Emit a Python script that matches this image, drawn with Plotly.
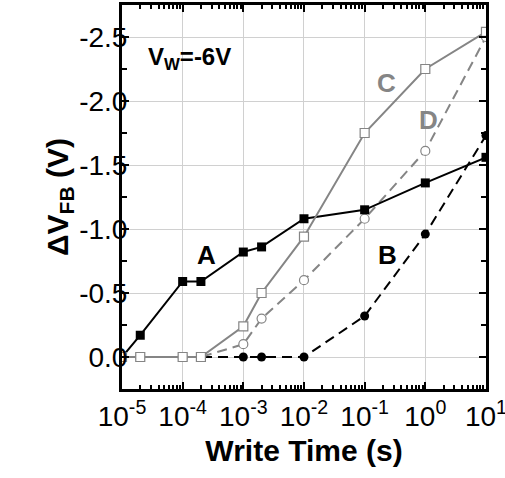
import plotly.graph_objects as go

t_all = [1e-5, 2e-5, 1e-4, 2e-4, 1e-3, 2e-3, 1e-2, 1e-1, 1, 10]
A = [0.0, -0.17, -0.59, -0.59, -0.82, -0.86, -1.08, -1.15, -1.36, -1.56]
B = [0.0, 0.0, 0.0, 0.0, 0.0, 0.0, 0.0, -0.32, -0.96, -1.73]
C = [0.0, 0.0, 0.0, 0.0, -0.24, -0.50, -0.94, -1.75, -2.25, -2.54]
D = [0.0, 0.0, 0.0, 0.0, -0.10, -0.30, -0.60, -1.08, -1.61, -2.50]

xticks = [1e-5, 1e-4, 1e-3, 1e-2, 1e-1, 1, 10]
xticktext = ["10<sup>-5</sup>", "10<sup>-4</sup>", "10<sup>-3</sup>", "10<sup>-2</sup>",
             "10<sup>-1</sup>", "10<sup>0</sup>", "10<sup>1</sup>"]
yticks = [0.0, -0.5, -1.0, -1.5, -2.0, -2.5]
yticktext = ["0.0", "-0.5", "-1.0", "-1.5", "-2.0", "-2.5"]

gray = "#858585"
fig = go.Figure()
fig.add_trace(go.Scatter(x=t_all, y=B, mode="lines+markers",
                         line=dict(color="black", width=2, dash="10px,6px"),
                         marker=dict(symbol="circle", size=9, color="black")))
fig.add_trace(go.Scatter(x=t_all, y=D, mode="lines+markers",
                         line=dict(color=gray, width=2, dash="10px,6px"),
                         marker=dict(symbol="circle", size=9, color="white",
                                     line=dict(color=gray, width=1.2))))
fig.add_trace(go.Scatter(x=t_all, y=A, mode="lines+markers",
                         line=dict(color="black", width=2),
                         marker=dict(symbol="square", size=9, color="black")))
fig.add_trace(go.Scatter(x=t_all, y=C, mode="lines+markers",
                         line=dict(color=gray, width=2),
                         marker=dict(symbol="square", size=9, color="white",
                                     line=dict(color=gray, width=1.2))))

font = "Liberation Sans, Arial, sans-serif"
fig.update_layout(
    width=505, height=478, showlegend=False,
    margin=dict(l=122, r=19, t=5, b=89),
    plot_bgcolor="white", paper_bgcolor="white",
    font=dict(family=font, size=28, color="black"),
)
fig.update_xaxes(type="log", range=[-5, 1.0005], tickvals=xticks, ticktext=xticktext,
                 automargin=False,
                 ticks="inside", ticklen=7, tickwidth=2, tickcolor="black",
                 showline=True, linewidth=3, linecolor="black", mirror="ticks",
                 showgrid=True, gridcolor="#d0d0d0", gridwidth=1, zeroline=False,
                 tickfont=dict(size=28), ticklabeloverflow="allow",
                 minor=dict(ticks="inside", ticklen=4, tickwidth=1.5, tickcolor="black",
                            dtick="D1", showgrid=False),
                 title=dict(text="<b>Write Time (s)</b>", font=dict(size=30), standoff=10))
fig.update_yaxes(range=[0.25, -2.75], tickvals=yticks, ticktext=yticktext,
                 automargin=False,
                 ticks="inside", ticklen=7, tickwidth=2, tickcolor="black",
                 showline=True, linewidth=3, linecolor="black", mirror="ticks",
                 showgrid=True, gridcolor="#d0d0d0", gridwidth=1, zeroline=False,
                 tickfont=dict(size=28), ticklabelstandoff=-14,
                 minor=dict(ticks="inside", ticklen=5, tickwidth=1.5, tickcolor="black",
                            dtick=0.25, showgrid=False),
                 title=dict(text="<b>ΔV<sub>FB</sub> (V)</b>", font=dict(size=30), standoff=2))

def lab(x, y, text, color, size=26, **kw):
    fig.add_annotation(x=x, y=y, xref="x", yref="y", showarrow=False, text=text,
                       font=dict(family=font, size=size, color=color), **kw)

lab(-3.6, -0.80, "<b>A</b>", "black")
lab(-0.62, -0.80, "<b>B</b>", "black")
lab(-0.64, -2.14, "<b>C</b>", gray)
lab(0.05, -1.85, "<b>D</b>", gray)
lab(-4.6, -2.33, "<b>V<sub>W</sub>=-6V</b>", "black", size=24, xanchor="left")

fig.write_html("out.html")
